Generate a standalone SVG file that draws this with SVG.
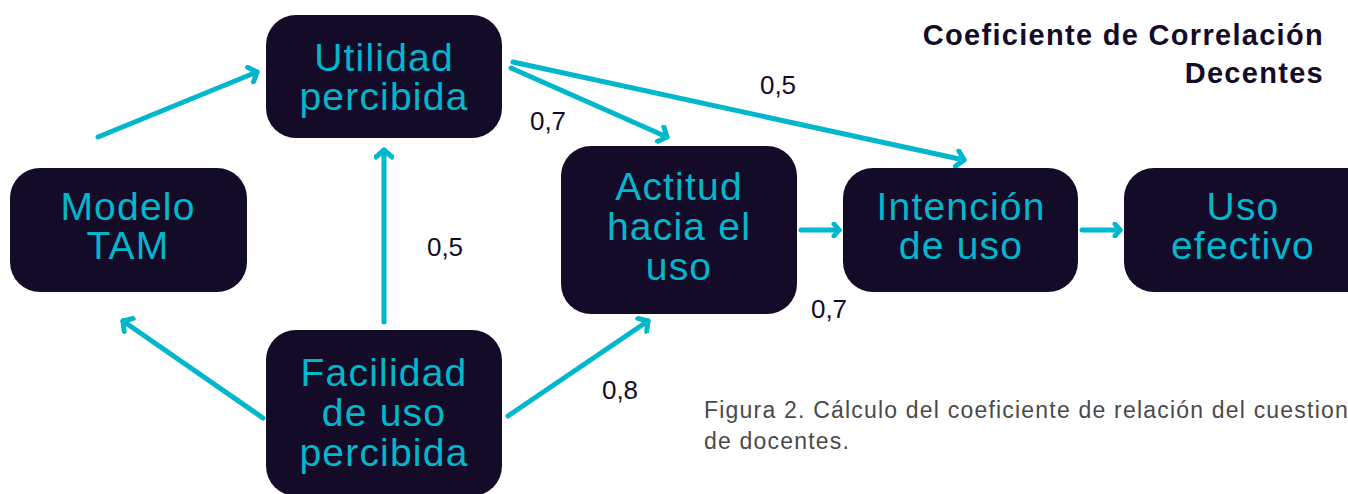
<svg xmlns="http://www.w3.org/2000/svg" width="1348" height="494" viewBox="0 0 1348 494">
<defs>
<style>
.box{fill:#140b29}
.nt{font-family:"Liberation Sans",Arial,sans-serif;font-size:39px;letter-spacing:1.2px;fill:#00b7cb;text-anchor:middle}
.lbl{font-family:"Liberation Sans",Arial,sans-serif;font-size:26px;fill:#140b29;text-anchor:middle}
.title{font-family:"Liberation Sans",Arial,sans-serif;font-size:29px;letter-spacing:1.3px;font-weight:bold;fill:#140b29;text-anchor:end}
.cap{font-family:"Liberation Sans",Arial,sans-serif;font-size:23px;letter-spacing:1.2px;fill:#4a4a4a}
.con{stroke:#00b7cb;stroke-width:5;fill:none;stroke-linecap:round}
</style>
<marker id="ah" markerUnits="userSpaceOnUse" markerWidth="20" markerHeight="20" refX="10" refY="10" orient="auto" viewBox="0 0 20 20">
<path d="M3,2 L10,10 L3,18" fill="none" stroke="#00b7cb" stroke-width="5" stroke-linecap="round" stroke-linejoin="round"/>
</marker>
<marker id="ahs" markerUnits="userSpaceOnUse" markerWidth="16" markerHeight="16" refX="8" refY="8" orient="auto" viewBox="0 0 16 16">
<path d="M3,2 L8,8 L3,14" fill="none" stroke="#00b7cb" stroke-width="5" stroke-linecap="round" stroke-linejoin="round"/>
</marker>
</defs>
<rect width="1348" height="494" fill="#ffffff"/>

<g id="connectors">
<line class="con" x1="98" y1="137" x2="257" y2="72" marker-end="url(#ah)"/>
<line class="con" x1="384" y1="322" x2="384" y2="150" marker-end="url(#ah)"/>
<line class="con" x1="511" y1="68" x2="667" y2="137" marker-end="url(#ah)"/>
<line class="con" x1="513" y1="62" x2="964" y2="160" marker-end="url(#ah)"/>
<line class="con" x1="263" y1="418" x2="123" y2="321" marker-end="url(#ah)"/>
<line class="con" x1="508" y1="416" x2="648" y2="321" marker-end="url(#ah)"/>
<line class="con" x1="801" y1="230" x2="839" y2="230" marker-end="url(#ahs)"/>
<line class="con" x1="1082" y1="230" x2="1120" y2="230" marker-end="url(#ahs)"/>
</g>

<g id="labels">
<text class="lbl" x="548" y="130">0,7</text>
<text class="lbl" x="778" y="94">0,5</text>
<text class="lbl" x="445" y="256">0,5</text>
<text class="lbl" x="829" y="318">0,7</text>
<text class="lbl" x="620" y="399">0,8</text>
</g>

<g id="utilidad">
<rect class="box" x="266" y="15" width="236" height="123" rx="30"/>
<text class="nt" x="384" y="71">Utilidad</text>
<text class="nt" x="384" y="110">percibida</text>
</g>

<g id="modelo">
<rect class="box" x="10" y="168" width="237" height="124" rx="30"/>
<text class="nt" x="128" y="220">Modelo</text>
<text class="nt" x="128" y="259">TAM</text>
</g>

<g id="facilidad">
<rect class="box" x="266" y="330" width="236" height="166" rx="30"/>
<text class="nt" x="384" y="386">Facilidad</text>
<text class="nt" x="384" y="426">de uso</text>
<text class="nt" x="384" y="466">percibida</text>
</g>

<g id="actitud">
<rect class="box" x="561" y="146" width="236" height="168" rx="30"/>
<text class="nt" x="679" y="200">Actitud</text>
<text class="nt" x="679" y="240">hacia el</text>
<text class="nt" x="679" y="280">uso</text>
</g>

<g id="intencion">
<rect class="box" x="843" y="168" width="235" height="124" rx="30"/>
<text class="nt" x="961" y="220">Intención</text>
<text class="nt" x="961" y="259">de uso</text>
</g>

<g id="uso">
<rect class="box" x="1124" y="168" width="256" height="124" rx="30"/>
<text class="nt" x="1243" y="220">Uso</text>
<text class="nt" x="1243" y="259">efectivo</text>
</g>

<g id="title">
<text class="title" x="1324" y="45">Coeficiente de Correlación</text>
<text class="title" x="1324" y="83">Decentes</text>
</g>

<g id="caption">
<text class="cap" x="704" y="418">Figura 2. Cálculo del coeficiente de relación del cuestionario</text>
<text class="cap" x="704" y="449">de docentes.</text>
</g>
</svg>
